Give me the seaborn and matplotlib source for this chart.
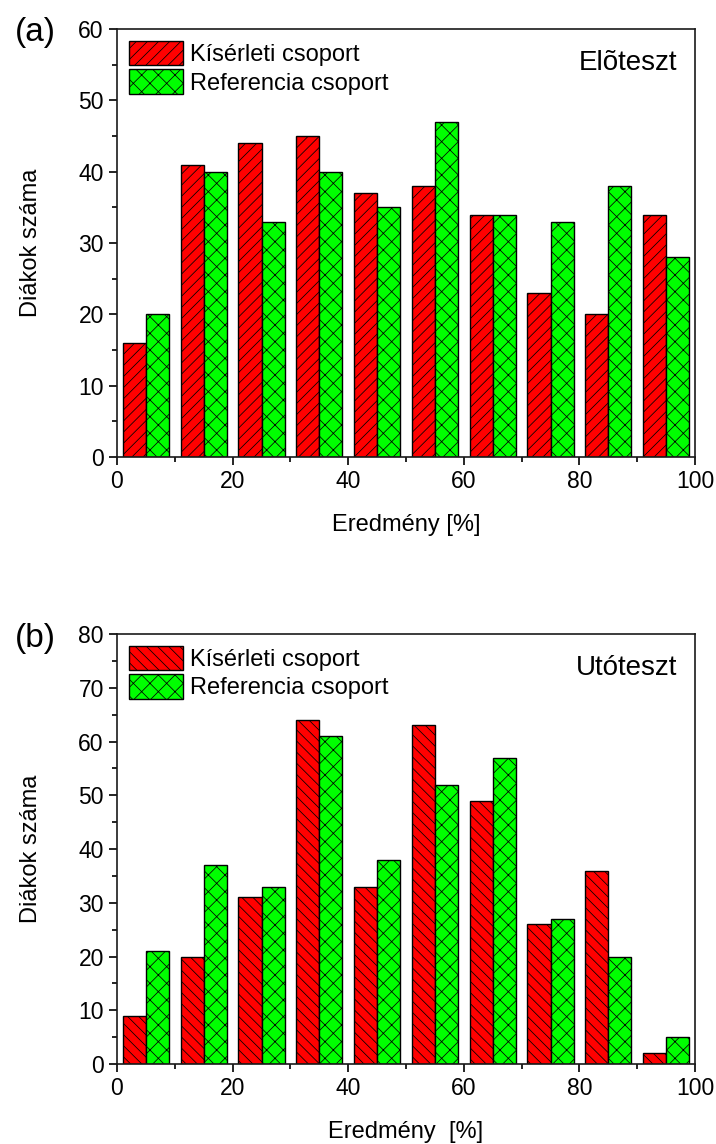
import matplotlib
matplotlib.use("Agg")
import matplotlib.pyplot as plt
import pandas as pd
import seaborn as sns
from matplotlib.patches import Patch
from matplotlib.ticker import MultipleLocator

# Score bins (centres, %) and number of students per bin
bin_centres = [5, 15, 25, 35, 45, 55, 65, 75, 85, 95]
groups = ["Kísérleti csoport", "Referencia csoport"]

pre_experimental = [16, 41, 44, 45, 37, 38, 34, 23, 20, 34]
pre_reference = [20, 40, 33, 40, 35, 47, 34, 33, 38, 28]

post_experimental = [9, 20, 31, 64, 33, 63, 49, 26, 36, 2]
post_reference = [21, 37, 33, 61, 38, 52, 57, 27, 20, 5]

sns.set_theme(style="ticks")
plt.rcParams["font.family"] = ["Liberation Sans", "DejaVu Sans"]
plt.rcParams["hatch.linewidth"] = 0.55
plt.rcParams["hatch.color"] = "black"
for key in ["text.color", "axes.labelcolor", "xtick.color", "ytick.color"]:
    plt.rcParams[key] = "black"

RED = "#ff0000"
GREEN = "#00ff00"


def long_table(exp, ref):
    return pd.DataFrame({
        "bin": bin_centres * 2,
        "count": list(exp) + list(ref),
        "group": [groups[0]] * len(exp) + [groups[1]] * len(ref),
    })


def draw_panel(ax, exp, ref, red_hatch, ymax, title, xlabel):
    df = long_table(exp, ref)
    sns.barplot(data=df, x="bin", y="count", hue="group", hue_order=groups,
                native_scale=True, palette=[RED, GREEN], saturation=1,
                edgecolor="black", linewidth=1.0, width=0.8,
                errorbar=None, legend=False, ax=ax)
    hatches = [red_hatch, "xx"]
    for cont, h in zip(ax.containers, hatches):
        for bar in cont:
            bar.set_hatch(h)

    ax.set_xlim(0, 100)
    ax.set_ylim(0, ymax)
    ax.xaxis.set_major_locator(MultipleLocator(20))
    ax.xaxis.set_minor_locator(MultipleLocator(10))
    ax.yaxis.set_major_locator(MultipleLocator(10))
    ax.yaxis.set_minor_locator(MultipleLocator(5))
    ax.tick_params(which="both", direction="out", top=False, right=False,
                   width=1.2, colors="black", labelsize=16.5)
    ax.tick_params(which="major", length=6)
    ax.tick_params(which="minor", length=3.5)
    for sp in ax.spines.values():
        sp.set_visible(True)
        sp.set_linewidth(1.2)
        sp.set_color("#1a1a1a")

    ax.set_xlabel(xlabel, fontsize=17)
    ax.set_ylabel("Diákok száma", fontsize=17)
    ax.xaxis.set_label_coords(0.5, -0.133)
    ax.yaxis.set_label_coords(-0.13, 0.5)

    handles = [Patch(facecolor=RED, edgecolor="black", hatch=red_hatch, linewidth=1.0),
               Patch(facecolor=GREEN, edgecolor="black", hatch="xx", linewidth=1.0)]
    ax.legend(handles, groups, loc="upper left", frameon=False, fontsize=17,
              handlelength=2.3, handleheight=1.2, handletextpad=0.3,
              labelspacing=0.15, borderpad=0, borderaxespad=0.5)

    ax.text(0.969, 0.92, title, transform=ax.transAxes, ha="right",
            va="center", fontsize=20)


fig = plt.figure(figsize=(7.16, 11.44), dpi=100)
ax_a = fig.add_axes([0.1634, 0.6005, 0.8073, 0.3741])
ax_b = fig.add_axes([0.1634, 0.0699, 0.8073, 0.3759])

draw_panel(ax_a, pre_experimental, pre_reference, "///", 60,
           "Elõteszt", "Eredmény [%]")
draw_panel(ax_b, post_experimental, post_reference, "\\\\\\", 80,
           "Utóteszt", "Eredmény  [%]")

fig.text(15 / 716, 1 - 33 / 1144, "(a)", ha="left", va="center", fontsize=24)
fig.text(15 / 716, 1 - 638 / 1144, "(b)", ha="left", va="center", fontsize=24)

fig.savefig("out.png", dpi=100, facecolor="white")
